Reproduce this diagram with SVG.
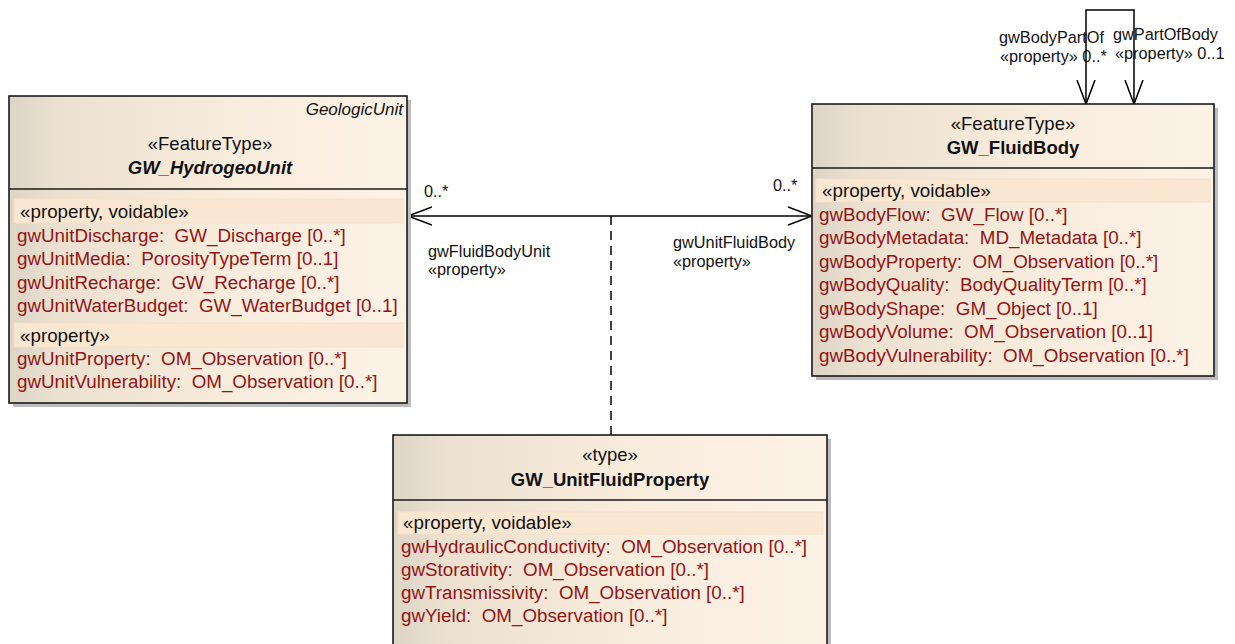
<svg xmlns="http://www.w3.org/2000/svg" width="1235" height="644" viewBox="0 0 1235 644">
<defs>
<linearGradient id="fill" x1="0" y1="0" x2="1" y2="0">
<stop offset="0" stop-color="#ddd4c6"/>
<stop offset="0.12" stop-color="#ece1d1"/>
<stop offset="0.55" stop-color="#f8ecdd"/>
<stop offset="1" stop-color="#fcf2e6"/>
</linearGradient>
<marker id="open" markerUnits="userSpaceOnUse" markerWidth="30" markerHeight="24" refX="24" refY="10" orient="auto-start-reverse">
<path d="M0,1 L24,10 L0,19" fill="none" stroke="#000" stroke-width="1.5"/>
</marker>
<style>
.box{fill:url(#fill);stroke:#1a1a1a;stroke-width:1.6}
.shadow{fill:#bdbdbd}
.div{stroke:#1a1a1a;stroke-width:1.5}
.band{fill:#fae7d2;stroke:#f6e0c6;stroke-width:1}
.st{font-family:"Liberation Sans",Arial,sans-serif;font-size:18.5px;fill:#111;text-anchor:middle}
.nm{font-family:"Liberation Sans",Arial,sans-serif;font-size:18.5px;font-weight:bold;fill:#111;text-anchor:middle}
.it{font-style:italic}
.sec{font-family:"Liberation Sans",Arial,sans-serif;font-size:18.8px;fill:#111}
.at{font-family:"Liberation Sans",Arial,sans-serif;font-size:18.8px;fill:#921515;white-space:pre}
.lb{font-family:"Liberation Sans",Arial,sans-serif;font-size:16.3px;fill:#111}
.gu{font-family:"Liberation Sans",Arial,sans-serif;font-size:17px;font-style:italic;fill:#111;text-anchor:end}
.ln{fill:none;stroke:#000;stroke-width:1.5}
</style>
</defs>

<g id="connectors">
<path class="ln" d="M408,216 L812,216" marker-start="url(#open)" marker-end="url(#open)"/>
<path class="ln" d="M611,216 L611,435" stroke-dasharray="9,6"/>
<path class="ln" d="M1086,104 L1086,10 L1134,10 L1134,104" marker-start="url(#open)" marker-end="url(#open)"/>
<text class="lb" x="424" y="197">0..*</text>
<text class="lb" x="773" y="191">0..*</text>
<text class="lb" x="428" y="257">gwFluidBodyUnit</text>
<text class="lb" x="428" y="275">«property»</text>
<text class="lb" x="673" y="248">gwUnitFluidBody</text>
<text class="lb" x="673" y="267">«property»</text>
<text class="lb" x="999" y="43">gwBodyPartOf</text>
<text class="lb" x="1000" y="62">«property» 0..*</text>
<text class="lb" x="1113" y="40">gwPartOfBody</text>
<text class="lb" x="1115" y="59">«property» 0..1</text>
</g>

<g id="GW_HydrogeoUnit">
<rect class="shadow" x="13" y="100" width="398" height="307"/>
<rect class="box" x="9" y="96" width="398" height="307"/>
<line class="div" x1="9" y1="189" x2="407" y2="189"/>
<text class="gu" x="403" y="115">GeologicUnit</text>
<text class="st" x="210" y="150">«FeatureType»</text>
<text class="nm it" x="210" y="174">GW_HydrogeoUnit</text>
<rect class="band" x="14" y="199" width="389" height="24"/>
<text class="sec" x="20" y="218">«property, voidable»</text>
<text class="at" x="17" y="242" xml:space="preserve">gwUnitDischarge:  GW_Discharge [0..*]</text>
<text class="at" x="17" y="265" xml:space="preserve">gwUnitMedia:  PorosityTypeTerm [0..1]</text>
<text class="at" x="17" y="289" xml:space="preserve">gwUnitRecharge:  GW_Recharge [0..*]</text>
<text class="at" x="17" y="312" xml:space="preserve">gwUnitWaterBudget:  GW_WaterBudget [0..1]</text>
<rect class="band" x="14" y="323" width="389" height="24"/>
<text class="sec" x="20" y="342">«property»</text>
<text class="at" x="17" y="365" xml:space="preserve">gwUnitProperty:  OM_Observation [0..*]</text>
<text class="at" x="17" y="388" xml:space="preserve">gwUnitVulnerability:  OM_Observation [0..*]</text>
</g>

<g id="GW_FluidBody">
<rect class="shadow" x="816" y="108" width="402" height="272"/>
<rect class="box" x="812" y="104" width="402" height="272"/>
<line class="div" x1="812" y1="168" x2="1214" y2="168"/>
<text class="st" x="1013" y="130">«FeatureType»</text>
<text class="nm" x="1013" y="154">GW_FluidBody</text>
<rect class="band" x="816" y="179" width="394" height="23"/>
<text class="sec" x="822" y="197">«property, voidable»</text>
<text class="at" x="819" y="221" xml:space="preserve">gwBodyFlow:  GW_Flow [0..*]</text>
<text class="at" x="819" y="244" xml:space="preserve">gwBodyMetadata:  MD_Metadata [0..*]</text>
<text class="at" x="819" y="268" xml:space="preserve">gwBodyProperty:  OM_Observation [0..*]</text>
<text class="at" x="819" y="291" xml:space="preserve">gwBodyQuality:  BodyQualityTerm [0..*]</text>
<text class="at" x="819" y="315" xml:space="preserve">gwBodyShape:  GM_Object [0..1]</text>
<text class="at" x="819" y="338" xml:space="preserve">gwBodyVolume:  OM_Observation [0..1]</text>
<text class="at" x="819" y="362" xml:space="preserve">gwBodyVulnerability:  OM_Observation [0..*]</text>
</g>

<g id="GW_UnitFluidProperty">
<rect class="shadow" x="397" y="439" width="434" height="230"/>
<rect class="box" x="393" y="435" width="434" height="230"/>
<line class="div" x1="393" y1="500" x2="827" y2="500"/>
<text class="st" x="610" y="461">«type»</text>
<text class="nm" x="610" y="486">GW_UnitFluidProperty</text>
<rect class="band" x="398" y="512" width="425" height="22"/>
<text class="sec" x="403" y="529">«property, voidable»</text>
<text class="at" x="401" y="553" xml:space="preserve">gwHydraulicConductivity:  OM_Observation [0..*]</text>
<text class="at" x="401" y="576" xml:space="preserve">gwStorativity:  OM_Observation [0..*]</text>
<text class="at" x="401" y="599" xml:space="preserve">gwTransmissivity:  OM_Observation [0..*]</text>
<text class="at" x="401" y="622" xml:space="preserve">gwYield:  OM_Observation [0..*]</text>
</g>
</svg>
